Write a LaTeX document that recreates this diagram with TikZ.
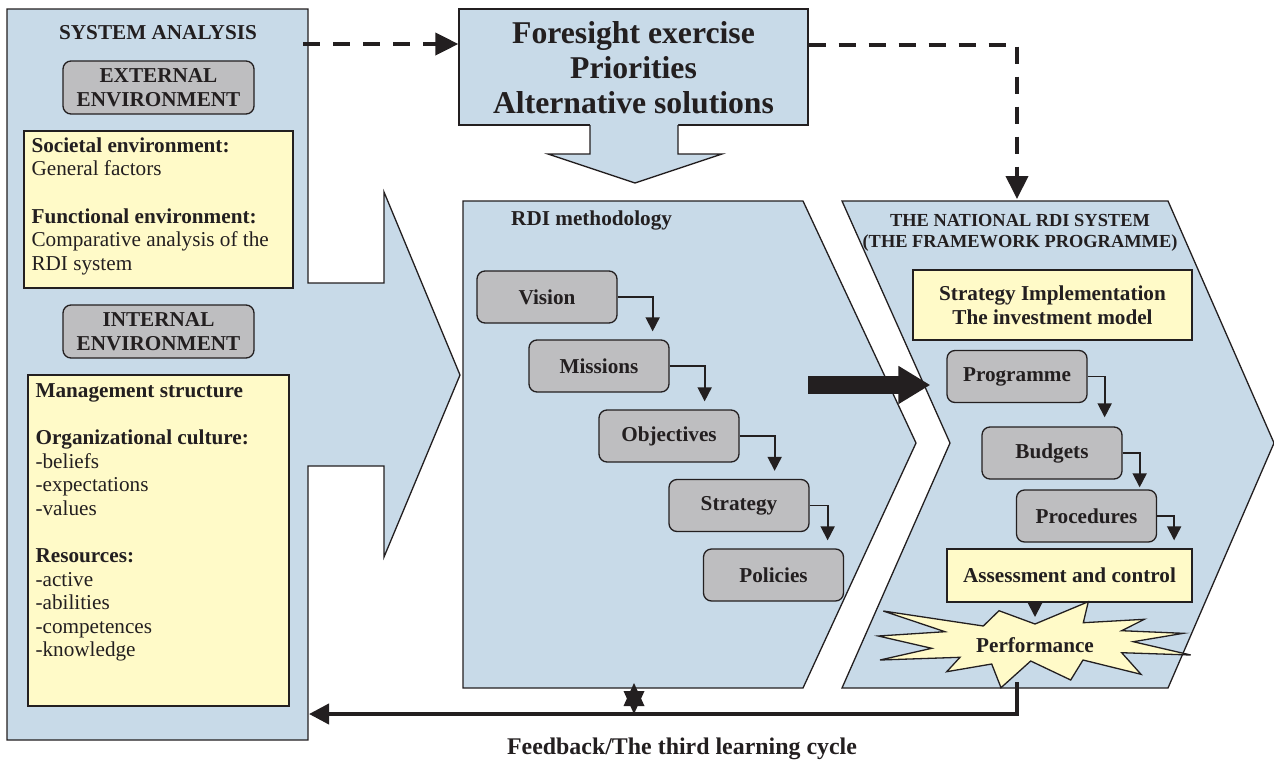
\documentclass[tikz,border=0pt]{standalone}
\usepackage{fontspec}
\setmainfont{Liberation Serif}
\usetikzlibrary{arrows.meta,calc}
\definecolor{panel}{RGB}{200,218,232}
\definecolor{stepgray}{RGB}{190,190,192}
\definecolor{note}{RGB}{255,250,200}
\definecolor{ink}{RGB}{35,31,32}
\newcommand{\dgbody}{\fontsize{21.2pt}{23.6pt}\selectfont}
\newcommand{\dghead}{\fontsize{18.4pt}{21pt}\selectfont}
\newcommand{\dgbig}{\fontsize{31.7pt}{35pt}\selectfont}
\newcommand{\dgfeed}{\fontsize{23.9pt}{26pt}\selectfont}
\begin{document}
\begin{tikzpicture}[x=1pt,y=-1pt,
  outline/.style={draw=ink,line width=1.3pt,line join=miter},
  panelshape/.style={outline,fill=panel},
  notebox/.style={outline,fill=note,rectangle,inner sep=0pt,text=ink},
  bluebox/.style={outline,fill=panel,rectangle,inner sep=0pt,text=ink},
  stepbox/.style={outline,fill=stepgray,rounded corners=8pt,minimum width=140pt,
    minimum height=52pt,inner sep=0pt,font=\dgbody\bfseries,text=ink,align=center},
  textblock/.style={font=\dgbody,text=ink,align=left,inner sep=0pt},
  steparrow/.style={draw=ink,line width=1.8pt,-{Triangle[length=14pt,width=14pt]}},
  dasharrow/.style={draw=ink,line width=4pt,dash pattern=on 17pt off 13pt,
    -{Triangle[length=23pt,width=22pt]}},
  feedline/.style={draw=ink,line width=4pt,line join=miter,
    -{Triangle[length=20pt,width=20pt]}},
  bigarrow/.style={draw=ink,line width=18pt,-{Triangle[length=32pt,width=36pt]}}
]
\useasboundingbox (0,0) rectangle (1274,763);

% ---------- panels ----------
\path[panelshape] (7,9) -- (308,9) -- (308,283) -- (384,283) -- (384,192)
  -- (460,375) -- (384,557) -- (384,466) -- (308,466) -- (308,740) -- (7,740) -- cycle;
\path[panelshape] (463,201) -- (803,201) -- (916,443) -- (803,688) -- (463,688) -- cycle;
\path[panelshape] (842,201) -- (1168,201) -- (1274,443) -- (1168,688) -- (842,688)
  -- (950,443) -- cycle;

% ---------- foresight block with its down arrow ----------
\node[bluebox,minimum width=349pt,minimum height=116pt] (foresight) at (633.5,67) {};
\fill[panel] (590,124) -- (590,154) -- (548,154) -- (635,183) -- (722,154)
  -- (678,154) -- (678,124) -- cycle;
\draw[outline] (590,125) -- (590,154) -- (548,154) -- (635,183) -- (722,154)
  -- (678,154) -- (678,125);
% multi-line nodes sit on the baseline of their last line
\node[font=\dgbig\bfseries,text=ink,align=center,anchor=base,inner sep=0pt] (foretext)
  at (633.5,113) {Foresight exercise\\Priorities\\Alternative solutions};

% ---------- system analysis ----------
\node[font=\dgbody\bfseries,text=ink,anchor=base,inner sep=0pt] (systitle) at (158,39) {SYSTEM ANALYSIS};
\node[stepbox,minimum width=191pt,minimum height=53pt] (external) at (158.5,87.5) {EXTERNAL\\ENVIRONMENT};
\node[notebox,minimum width=269pt,minimum height=157pt] (societal) at (158.5,209.5) {};
\node[textblock,anchor=base west] (societaltext) at ($(societal.north west)+(8,140)$)
  {\textbf{Societal environment:}\\General factors\\[23.6pt]\textbf{Functional environment:}\\Comparative analysis of the\\RDI system};
\node[stepbox,minimum width=191pt,minimum height=53pt] (internal) at (158.5,331.5) {INTERNAL\\ENVIRONMENT};
\node[notebox,minimum width=261pt,minimum height=331pt] (mgmt) at (158.5,540.5) {};
\node[textblock,anchor=base west] (mgmttext) at ($(mgmt.north west)+(8,282.6)$)
  {\textbf{Management structure}\\[23.6pt]\textbf{Organizational culture:}\\-beliefs\\-expectations\\-values\\[23.6pt]\textbf{Resources:}\\-active\\-abilities\\-competences\\-knowledge};

% ---------- RDI methodology ----------
\node[font=\dgbody\bfseries,text=ink,anchor=base west,inner sep=0pt] (rdihead) at (511,225) {RDI methodology};
\node[stepbox] (vision) at (547,297) {Vision};
\node[stepbox] (missions) at (599,366) {Missions};
\node[stepbox] (objectives) at (669,436) {Objectives};
\node[stepbox] (strategy) at (739,505.5) {Strategy};
\node[stepbox] (policies) at (773.5,575) {Policies};
\draw[steparrow] (vision.east) -| ($(vision.east |- missions.north)+(35,-8)$);
\draw[steparrow] (missions.east) -| ($(missions.east |- objectives.north)+(35,-8)$);
\draw[steparrow] (objectives.east) -| ($(objectives.east |- strategy.north)+(35,-8)$);
\draw[steparrow] (strategy.east) -| ($(strategy.east |- policies.north)+(18,-8)$);

% ---------- national RDI system ----------
\node[font=\dghead\bfseries,text=ink,align=center,anchor=base,inner sep=0pt] (nathead)
  at (1020,247) {THE NATIONAL RDI SYSTEM\\(THE FRAMEWORK PROGRAMME)};
\node[notebox,minimum width=279pt,minimum height=70pt,font=\dgbody\bfseries,align=center] (implement)
  at (1052.5,305) {Strategy Implementation\\The investment model};
\node[stepbox] (programme) at (1017,376.5) {Programme};
\node[stepbox] (budgets) at (1052,453) {Budgets};
\node[stepbox] (procedures) at (1086.5,516) {Procedures};
\node[notebox,minimum width=245pt,minimum height=53pt,font=\dgbody\bfseries] (assess)
  at (1069.5,575.5) {Assessment and control};
\draw[steparrow] (programme.east) -| ($(programme.east |- budgets.north)+(17,-9)$);
\draw[steparrow] (budgets.east) -| ($(budgets.east |- procedures.north)+(17,-2)$);
\draw[steparrow] (procedures.east) -| ($(procedures.east |- assess.north)+(17,-8)$);

% performance burst
\draw[outline,fill=note] (883.3,611) -- (983.3,626) -- (999,610.7) -- (1035,624)
  -- (1088.3,601.7) -- (1083.3,622.7) -- (1144.3,619.3) -- (1121.7,630.7)
  -- (1183.3,633.3) -- (1133.3,641.7) -- (1190.7,655) -- (1121.7,652.7)
  -- (1141,674.3) -- (1083,660) -- (1070.7,680) -- (1030.7,661) -- (1001,687.7)
  -- (991.7,664) -- (946.7,671.7) -- (960,657.3) -- (880,660) -- (931.7,648.3)
  -- (878.3,636) -- (945,631.7) -- cycle;
\node[font=\dgbody\bfseries,text=ink,inner sep=0pt] (perf) at (1035,645) {Performance};
\coordinate (perfin) at (1035,617);
\draw[steparrow] (assess.south -| perfin) -- (perfin);

% ---------- flows between the blocks ----------
\coordinate (sysout) at (303,44);
\coordinate (natin) at (1017,199);
\draw[dasharrow] (sysout) -- (foresight.west |- sysout);
\draw[dasharrow] ($(foresight.east |- sysout)+(0,1)$) -| (natin);

\coordinate (hand) at (808,385);
\draw[bigarrow] (hand) -- ($(programme.west)+(-16,8.5)$);

% feedback loop
\coordinate (perfout) at (1017,682);
\coordinate (sysback) at (309,714);
\draw[feedline] (perfout) |- (sysback);
\fill[ink] (634,683) -- (644.5,706) -- (623.5,706) -- cycle;
\fill[ink] (634,714) -- (644.5,691) -- (623.5,691) -- cycle;
\node[font=\dgfeed\bfseries,text=ink,anchor=base,inner sep=0pt] (fbtext) at (682,754)
  {Feedback/The third learning cycle};
\end{tikzpicture}
\end{document}
